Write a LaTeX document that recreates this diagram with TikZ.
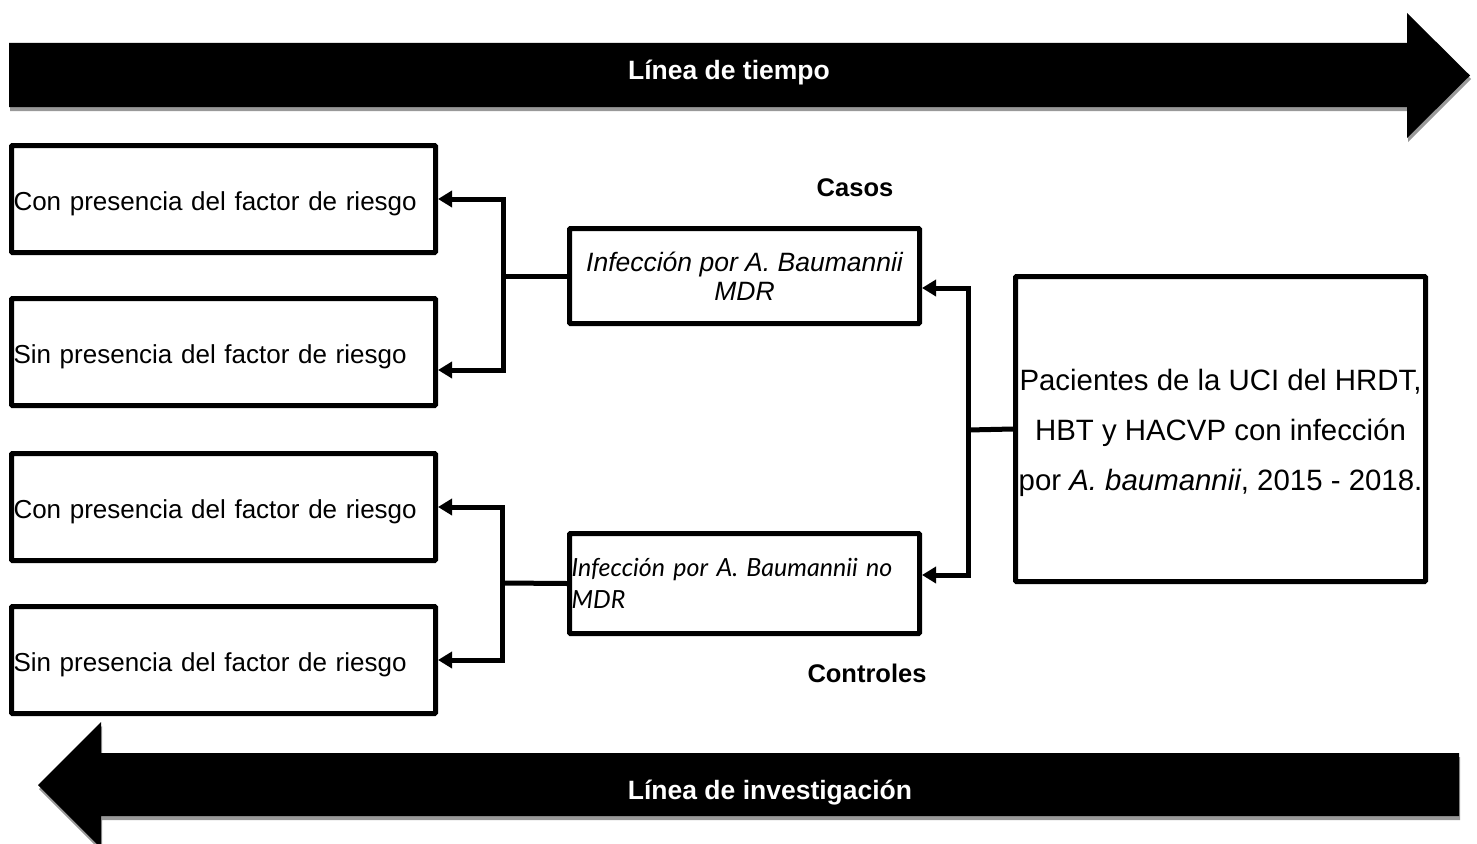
\documentclass[tikz,border=0pt]{standalone}
\usepackage{fontspec}
\setmainfont{Liberation Sans}
\newfontfamily\latofont{Lato}
\usepackage{tikz}
\usetikzlibrary{arrows.meta,positioning,calc}

\begin{document}
\begin{tikzpicture}[x=1pt, y=-1pt,
    box/.style={draw=black, line width=5pt, rounded corners=1pt, fill=white, inner sep=2pt},
    riskbox/.style={box, minimum width=424pt, minimum height=107pt, text width=420pt, align=left,
        text height=22pt, text depth=0pt, font=\fontsize{26}{30}\selectfont},
    conn/.style={draw=black, line width=5pt, line join=miter},
    tip/.style={conn, -{Triangle[length=14pt, width=16pt]}},
    band/.style={fill=black},
    shade/.style={fill=black!40},
    bandtext/.style={text=white, font=\fontsize{26.5}{30}\selectfont\bfseries},
    group/.style={font=\fontsize{25.5}{30}\selectfont\bfseries}]

\useasboundingbox (0,0) rectangle (1477,843);

\fill[shade] (10,47) -- (1408,47) -- (1408,17) -- (1471,79) -- (1408,142) -- (1408,111) -- (10,111) -- cycle;
\fill[band] (9,43) -- (1407,43) -- (1407,13) -- (1470,75.5) -- (1407,138) -- (1407,107) -- (9,107) -- cycle;
\node[bandtext] (tiempo) at (729,73) {Línea de tiempo};

\fill[shade] (1460,757) -- (102,757) -- (102,726) -- (39,789) -- (102,852) -- (102,820) -- (1460,820) -- cycle;
\fill[band] (1459,753) -- (101,753) -- (101,722) -- (38,785) -- (101,848) -- (101,816) -- (1459,816) -- cycle;
\node[bandtext] (investigacion) at (770,793) {Línea de investigación};

\node[riskbox] (b1) at (223.5,199) {Con presencia del factor de riesgo};
\node[riskbox] (b2) at (223.5,352) {Sin presencia del factor de riesgo};
\node[riskbox] (b3) at (223.5,507) {Con presencia del factor de riesgo};
\node[riskbox] (b4) at (223.5,660) {Sin presencia del factor de riesgo};

\node[box, minimum width=350pt, minimum height=95pt, align=center,
    font=\fontsize{26.5}{28.5}\selectfont\itshape] (mdr) at (744.5,276)
    {Infección por A. Baumannii\\MDR};
\node[box, minimum width=350pt, minimum height=100pt, text width=346pt, align=left,
    font=\latofont\fontsize{25}{32}\selectfont\itshape] (nomdr) at (744.5,583.5)
    {Infección por A. Baumannii no\\MDR};

\node[box, minimum width=410pt, minimum height=305pt, align=center,
    font=\fontsize{29.4}{50}\selectfont] (pacientes) at (1220.5,429)
    {\rule{0pt}{30pt}Pacientes de la UCI del HRDT,\\HBT y HACVP con infección\\por \textit{A. baumannii}, 2015 - 2018.};

\node[group] (casos) at (855,188) {Casos};
\node[group] (controles) at (867,673) {Controles};

\coordinate (jt) at (503,276);
\coordinate (jb) at (502,583);
\coordinate (jr) at (968,430);

\draw[conn] (mdr.west) -- (jt);
\draw[tip] (jt) |- (b1.east);
\draw[tip] (jt) |- ([yshift=-18pt]b2.east);

\draw[conn] (nomdr.west) -- (jb);
\draw[tip] (jb) |- (b3.east);
\draw[tip] (jb) |- (b4.east);

\draw[conn] (pacientes.west) -- (jr);
\draw[tip] (jr) |- ([yshift=-12pt]mdr.east);
\draw[tip] (jr) |- ([yshift=8.5pt]nomdr.east);
\end{tikzpicture}
\end{document}
